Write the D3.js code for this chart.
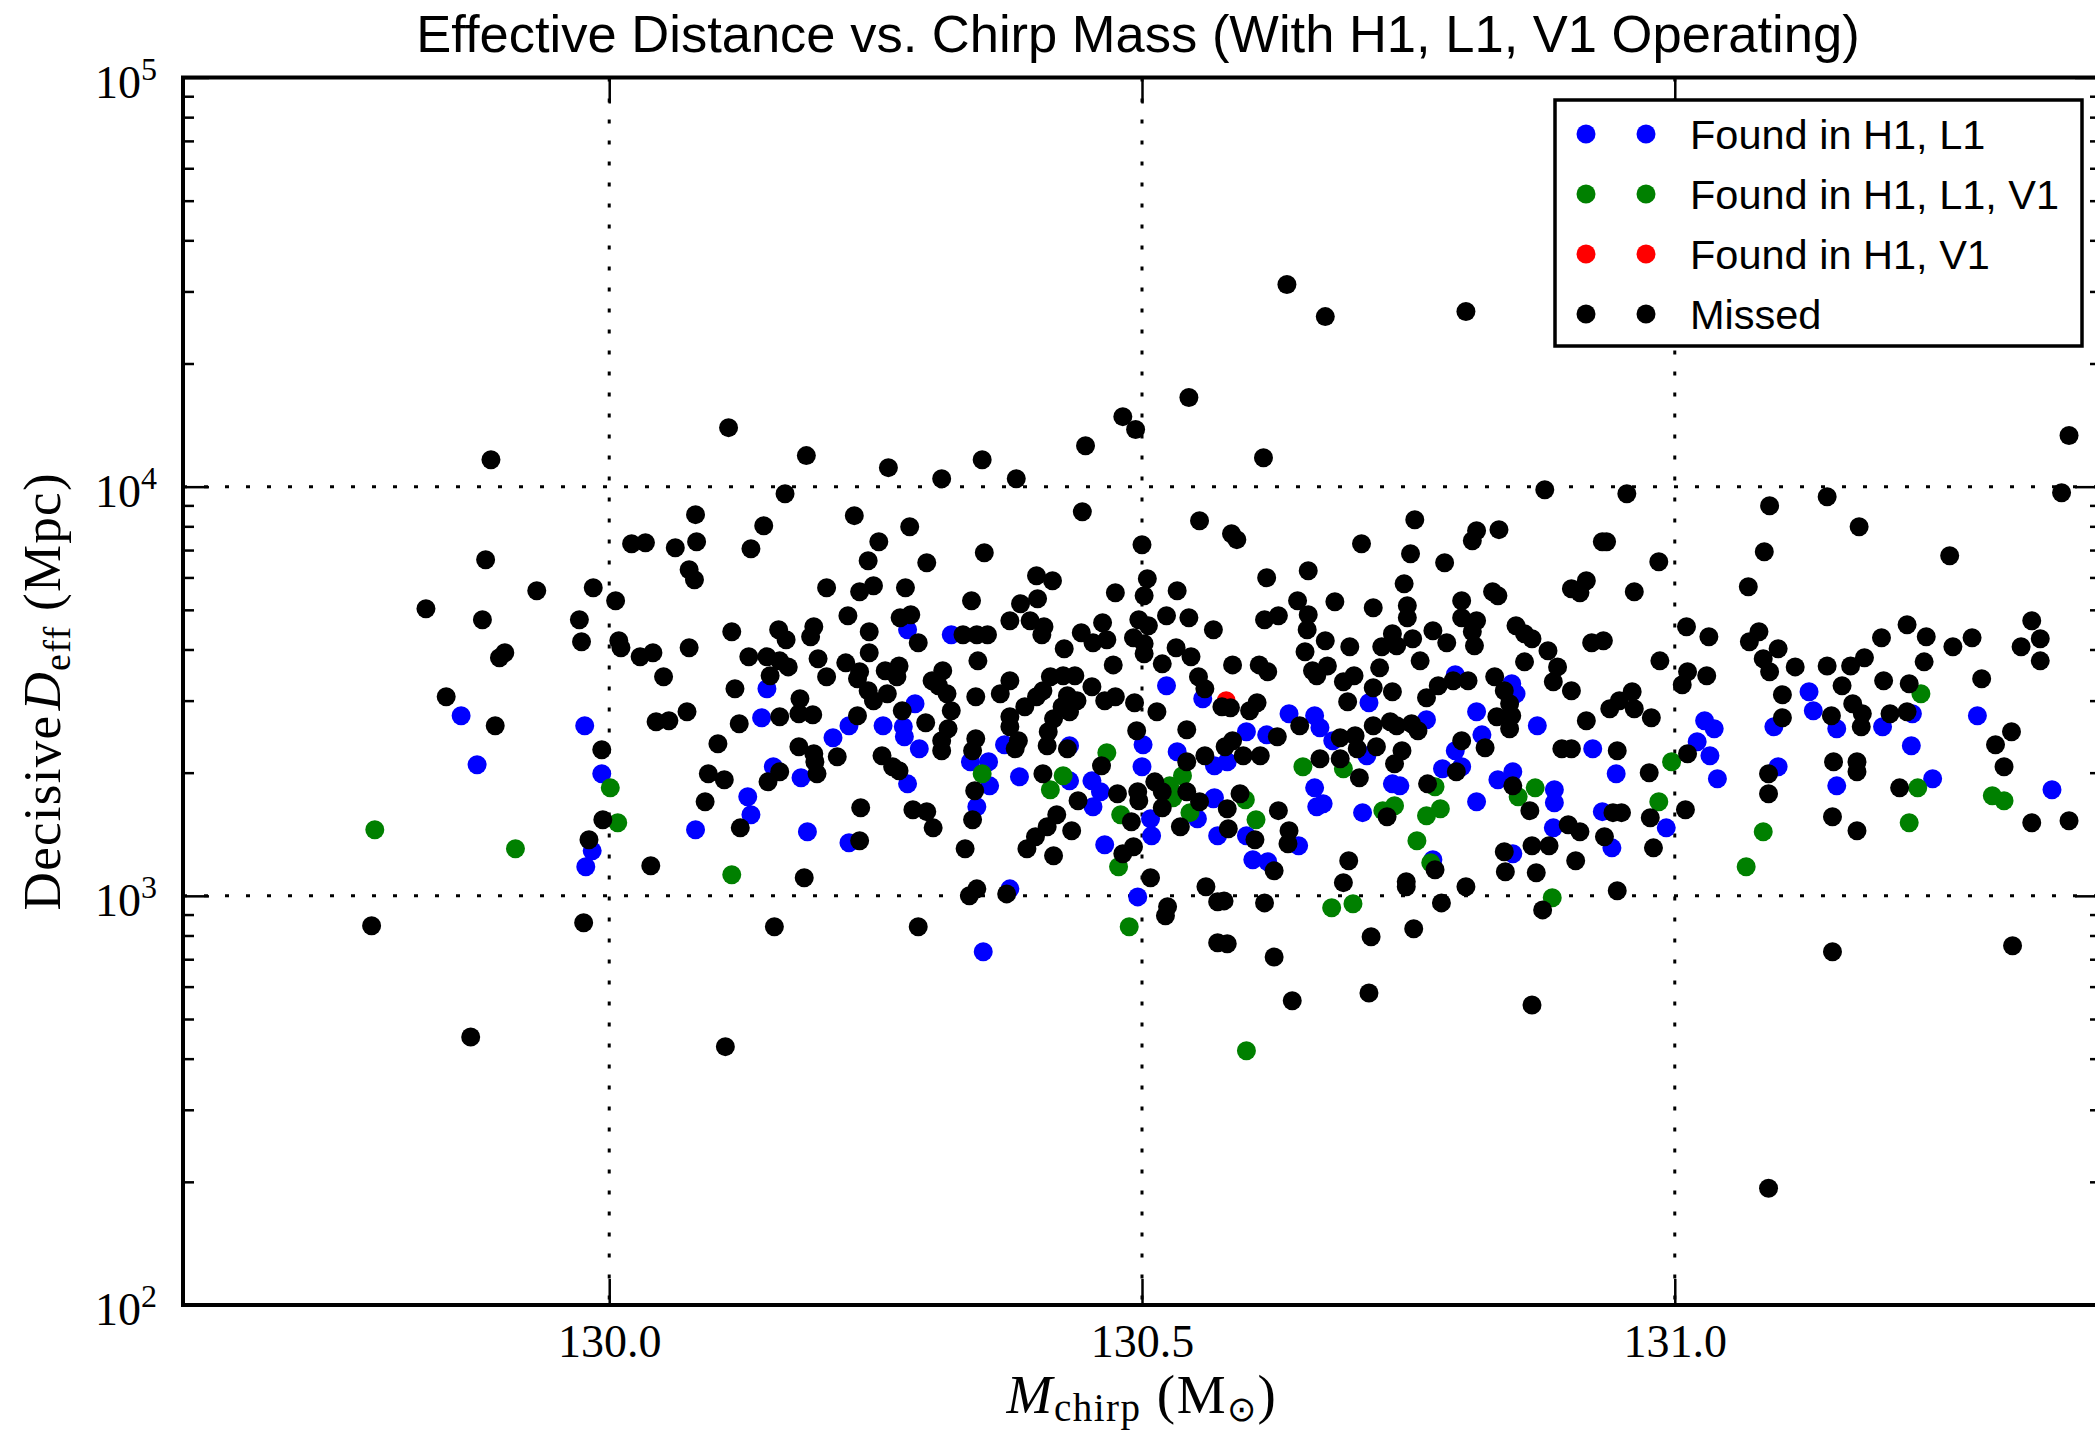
<!DOCTYPE html>
<html>
<head>
<meta charset="utf-8">
<script src="https://cdnjs.cloudflare.com/ajax/libs/d3/7.8.5/d3.min.js"></script>
<style>
body { margin: 0; background: #ffffff; }
svg { display: block; }
</style>
</head>
<body>
<div id="div_id_main"></div>
<script>

// chirp mass (Msun), decisive effective distance (Mpc)
var vFoundH1L1 = [
	[129.861, 2755], [129.977, 2604], [129.876, 2091], [129.993, 1987], [129.984, 1288], [129.978, 1178], [130.081, 1450],
	[130.280, 4469], [130.321, 4345], [130.148, 3207], [130.287, 2948], [130.143, 2724], [130.225, 2604], [130.210, 2434],
	[130.257, 2604], [130.276, 2589], [130.277, 2447], [130.291, 2288], [130.523, 3262], [130.557, 3032], [130.371, 2340],
	[130.432, 2327], [130.501, 2340], [130.533, 2250], [130.154, 2067], [130.180, 1943], [130.130, 1746], [130.133, 1578],
	[130.186, 1434], [130.225, 1348], [130.351, 730], [130.280, 1878], [130.339, 2126], [130.356, 2126], [130.357, 1857],
	[130.345, 1651], [130.376, 1040], [130.385, 1954], [130.432, 1910], [130.453, 1910], [130.461, 1796], [130.454, 1651],
	[130.465, 1333], [130.500, 2067], [130.508, 1543], [130.509, 1402], [130.496, 994], [130.552, 1543], [130.567, 1727],
	[130.571, 1402], [130.713, 2965], [130.794, 3469], [130.847, 3299], [130.851, 3119], [130.638, 2786], [130.662, 2755],
	[130.667, 2575], [130.598, 2518], [130.617, 2474], [130.679, 2393], [130.767, 2694], [130.814, 2819], [130.871, 2604],
	[130.819, 2474], [130.794, 2262], [130.923, 2288], [131.028, 2679], [131.037, 2560], [131.021, 2380], [131.033, 2200],
	[130.568, 2079], [130.580, 2126], [130.711, 2200], [130.662, 1836], [130.670, 1679], [130.664, 1651], [130.568, 1737],
	[130.598, 1402], [130.647, 1325], [130.604, 1225], [130.618, 1211], [130.707, 1597], [130.735, 1878], [130.742, 1857],
	[130.773, 1225], [130.782, 2044], [130.800, 2067], [130.814, 1698], [130.834, 1921], [130.848, 2010], [130.887, 1816],
	[130.887, 1689], [130.886, 1466], [130.848, 1267], [130.945, 1987], [130.932, 1606], [130.941, 1310], [130.992, 1466],
	[131.040, 1932], [131.126, 3154], [131.130, 2835], [131.223, 2786], [131.093, 2589], [131.152, 2560], [131.195, 2589],
	[131.284, 2755], [131.222, 2327], [131.097, 2067], [131.152, 1857], [131.242, 1932], [131.354, 1816]
];

var vFoundH1L1V1 = [
	[130.001, 1836], [130.008, 1509], [129.780, 1450], [129.912, 1303], [130.115, 1126], [130.350, 1987], [130.426, 1965],
	[130.414, 1816], [130.467, 2237], [130.480, 1578], [130.478, 1178], [130.488, 840], [130.526, 1857], [130.538, 1965],
	[130.529, 1737], [130.545, 1597], [130.997, 2126], [130.651, 2067], [130.689, 2044], [130.597, 1717], [130.607, 1535],
	[130.598, 418], [130.678, 935], [130.698, 956], [130.726, 1615], [130.737, 1661], [130.775, 1847], [130.767, 1570],
	[130.780, 1633], [130.758, 1363], [130.771, 1205], [130.853, 1746], [130.869, 1836], [130.885, 989], [130.985, 1698],
	[131.231, 3119], [131.228, 1836], [131.298, 1756], [131.309, 1708], [131.220, 1509], [131.083, 1434], [131.067, 1178]
];

var vFoundH1V1 = [
	[130.579, 2999]
];

var vMissed = [
	[129.889, 11640], [129.884, 6630], [129.828, 5031], [129.881, 4728], [129.932, 5566], [129.985, 5661], [130.006, 5262],
	[129.972, 4728], [129.974, 4178], [130.009, 4201], [130.011, 4039], [129.902, 3926], [129.897, 3817], [130.029, 3838],
	[130.041, 3926], [130.075, 4039], [130.051, 3431], [129.847, 3067], [129.893, 2604], [129.993, 2275], [130.044, 2663],
	[130.056, 2679], [130.073, 2819], [130.021, 7254], [130.034, 7295], [130.062, 7092], [130.081, 8543], [130.082, 7337],
	[130.075, 6267], [130.080, 5922], [129.994, 1535], [129.981, 1371], [130.039, 1185], [129.777, 845], [129.976, 859],
	[129.870, 452],
	[130.112, 13940], [130.185, 11910], [130.262, 11130], [130.312, 10460], [130.350, 11640], [130.382, 10460], [130.447, 12590],
	[130.482, 14830], [130.494, 13790], [130.544, 16510], [130.165, 9614], [130.145, 8028], [130.133, 7052], [130.230, 8495],
	[130.282, 7984], [130.253, 7337], [130.243, 6593], [130.298, 6519], [130.352, 6895], [130.444, 8688], [130.554, 8257],
	[130.500, 7213], [130.204, 5661], [130.235, 5535], [130.248, 5725], [130.278, 5661], [130.401, 6058], [130.416, 5889],
	[130.505, 5956], [130.502, 5412], [130.475, 5504], [130.533, 5566], [130.340, 5262], [130.402, 5321], [130.386, 5174],
	[130.224, 4836], [130.273, 4782], [130.283, 4864], [130.290, 4154], [130.376, 4702], [130.395, 4702], [130.408, 4545],
	[130.406, 4345], [130.115, 4419], [130.159, 4469], [130.166, 4225], [130.192, 4545], [130.189, 4297], [130.244, 4419],
	[130.332, 4345], [130.345, 4345], [130.355, 4345], [130.463, 4649], [130.443, 4395], [130.454, 4154], [130.467, 4225],
	[130.497, 4728], [130.506, 4571], [130.492, 4273], [130.502, 4131], [130.502, 3904], [130.523, 4836], [130.544, 4782],
	[130.567, 4469], [130.532, 4039], [130.546, 3838], [130.519, 3689], [130.473, 3668], [130.427, 4016], [130.346, 3752],
	[130.131, 3838], [130.148, 3838], [130.160, 3752], [130.168, 3627], [130.151, 3450], [130.118, 3207], [130.196, 3795],
	[130.204, 3431], [130.222, 3710], [130.244, 3926], [130.235, 3529], [130.233, 3393], [130.243, 3172], [130.248, 2999],
	[130.261, 3119], [130.259, 3549], [130.272, 3647], [130.270, 3431], [130.313, 3549], [130.303, 3355], [130.309, 3262],
	[130.317, 3119], [130.321, 2835], [130.275, 2835], [130.179, 3032], [130.178, 2786], [130.191, 2771], [130.160, 2740],
	[130.122, 2634], [130.102, 2353], [130.233, 2755], [130.297, 2649], [130.318, 2560], [130.312, 2393], [130.178, 2314],
	[130.192, 2225], [130.214, 2188], [130.256, 2200], [130.344, 3067], [130.367, 3119], [130.376, 3355], [130.390, 2899],
	[130.401, 3067], [130.414, 3431], [130.426, 3450], [130.437, 3450], [130.407, 3172], [130.430, 3084], [130.439, 2999],
	[130.425, 2899], [130.432, 2819], [130.417, 2709], [130.453, 3243], [130.465, 2999], [130.475, 3067], [130.493, 2965],
	[130.514, 2819], [130.553, 3431], [130.559, 3207], [130.495, 2532], [130.542, 2546], [130.376, 2740], [130.376, 2589],
	[130.384, 2393], [130.381, 2288], [130.344, 2420], [130.341, 2262], [130.412, 2518], [130.411, 2327], [130.430, 2288],
	[130.559, 2200],
	[130.193, 2126], [130.195, 1987], [130.093, 1987], [130.108, 1921], [130.090, 1698], [130.160, 2010], [130.149, 1899],
	[130.123, 1466], [130.236, 1642], [130.235, 1363], [130.183, 1107], [130.155, 840], [130.290, 840], [130.109, 428],
	[130.266, 2067], [130.272, 2021], [130.312, 2262], [130.285, 1624], [130.298, 1606], [130.304, 1466], [130.334, 1303],
	[130.343, 1806], [130.341, 1535], [130.338, 1000], [130.345, 1040], [130.373, 1011], [130.407, 1987], [130.440, 1708],
	[130.420, 1578], [130.411, 1475], [130.400, 1394], [130.392, 1303], [130.434, 1442], [130.417, 1253], [130.462, 2079],
	[130.477, 1776], [130.490, 1517], [130.492, 1318], [130.482, 1267], [130.496, 1796], [130.497, 1708], [130.508, 1107],
	[130.512, 1899], [130.519, 1796], [130.519, 1642], [130.542, 2126], [130.542, 1796], [130.554, 1698], [130.536, 1475],
	[130.560, 1052], [130.524, 940], [130.522, 894], [130.571, 967], [130.571, 768],
	[130.614, 11770], [130.878, 9833], [130.955, 9614], [130.584, 7676], [130.589, 7422], [130.706, 7254], [130.756, 8304],
	[130.752, 6857], [130.784, 6519], [130.814, 7807], [130.810, 7379], [130.835, 7852], [130.932, 7337], [130.936, 7337],
	[130.985, 6555], [130.617, 5990], [130.656, 6232], [130.746, 5790], [130.917, 5889], [130.903, 5629], [130.911, 5504],
	[130.962, 5535], [130.829, 5535], [130.834, 5412], [130.646, 5262], [130.656, 4864], [130.655, 4469], [130.653, 3949],
	[130.681, 5232], [130.717, 5060], [130.749, 5117], [130.749, 4782], [130.800, 5262], [130.800, 4782], [130.814, 4702],
	[130.810, 4419], [130.812, 4085], [130.615, 4728], [130.628, 4836], [130.672, 4201], [130.695, 4062], [130.735, 4370],
	[130.725, 4062], [130.739, 4085], [130.754, 4249], [130.773, 4444], [130.786, 4154], [130.761, 3752], [130.851, 4571],
	[130.859, 4370], [130.866, 4249], [130.881, 3971], [130.922, 4154], [130.933, 4201], [130.859, 3731], [130.890, 3627],
	[130.886, 3336], [130.903, 3172], [130.986, 3752], [131.011, 4545], [131.032, 4297], [131.012, 3529], [131.007, 3280],
	[131.030, 3450], [130.585, 3668], [130.610, 3668], [130.618, 3529], [130.660, 3549], [130.674, 3647], [130.664, 3450],
	[130.723, 3607], [130.689, 3336], [130.699, 3450], [130.693, 2982], [130.717, 3225], [130.735, 3154], [130.767, 3049],
	[130.778, 3262], [130.792, 3355], [130.806, 3355], [130.831, 3431], [130.840, 3172], [130.845, 2948], [130.575, 2899],
	[130.583, 2883], [130.608, 2965], [130.601, 2835], [130.648, 2604], [130.627, 2447], [130.585, 2393], [130.578, 2314],
	[130.686, 2434], [130.700, 2461], [130.717, 2604], [130.733, 2663], [130.739, 2604], [130.753, 2634], [130.759, 2532],
	[130.720, 2314], [130.744, 2262], [130.833, 2740], [130.847, 2755], [130.845, 2560], [130.917, 2679], [130.939, 2867],
	[130.948, 2999], [130.960, 3154], [130.962, 2867], [130.978, 2724], [130.800, 2393], [130.822, 2301], [130.894, 2288],
	[130.903, 2288], [130.946, 2262], [131.012, 2225], [130.595, 2200], [130.611, 2200],
	[130.667, 2163], [130.686, 2163], [130.702, 2288], [130.737, 2102], [130.704, 1943], [130.592, 1776], [130.580, 1633],
	[130.581, 1458], [130.628, 1615], [130.606, 1371], [130.638, 1442], [130.637, 1340], [130.624, 1152], [130.577, 972],
	[130.615, 961], [130.580, 764], [130.624, 709], [130.641, 554], [130.694, 1218], [130.689, 1077], [130.715, 794],
	[130.713, 579], [130.730, 1561], [130.768, 1878], [130.748, 1083], [130.748, 1052], [130.755, 831], [130.775, 1158],
	[130.781, 961], [130.804, 1052], [130.795, 2010], [130.848, 1857], [130.864, 1615], [130.900, 1492], [130.911, 1434],
	[130.840, 1281], [130.866, 1325], [130.882, 1325], [130.841, 1145], [130.870, 1139], [130.907, 1218], [130.876, 924],
	[130.866, 541], [130.976, 1998], [130.942, 1597], [130.950, 1597], [130.934, 1394], [130.977, 1552], [130.980, 1310],
	[131.010, 1624], [130.946, 1029],
	[131.089, 8985], [131.143, 9453], [131.173, 7984], [131.258, 6780], [131.370, 13330], [131.363, 9667], [131.084, 6934],
	[131.069, 5693], [131.079, 4419], [131.070, 4178], [131.097, 4016], [131.083, 3795], [131.089, 3529], [131.113, 3627],
	[131.143, 3647], [131.165, 3647], [131.178, 3817], [131.194, 4273], [131.218, 4597], [131.236, 4297], [131.261, 4062],
	[131.279, 4273], [131.234, 3731], [131.335, 4702], [131.343, 4249], [131.325, 4062], [131.343, 3752], [131.288, 3393],
	[131.220, 3299], [131.196, 3355], [131.157, 3262], [131.101, 3101], [131.167, 2948], [131.147, 2755], [131.176, 2786],
	[131.202, 2786], [131.218, 2819], [131.101, 2724], [131.175, 2589], [131.316, 2518], [131.301, 2340], [131.309, 2067],
	[131.149, 2126], [131.171, 2126], [131.171, 2010], [131.088, 1987], [131.088, 1776], [131.211, 1836], [131.148, 1561],
	[131.171, 1442], [131.335, 1509], [131.370, 1526],
	[131.148, 730], [131.317, 755], [131.088, 193], [130.636, 31180], [130.672, 26040], [130.804, 26790]
];

var vLegendLabels = ["Found in H1, L1", "Found in H1, L1, V1", "Found in H1, V1", "Missed"];
var vSeriesColors = ["#0000ff", "#008000", "#ff0000", "#000000"];

var vXTicks = [130.0, 130.5, 131.0];
var vYMajor = [1e2, 1e3, 1e4, 1e5];
var vYExp = [2, 3, 4, 5];

var sTitle = "Effective Distance vs. Chirp Mass (With H1, L1, V1 Operating)";

// ---------------------------------------------------------------

var MAIN_WIDTH = 2095;
var MAIN_HEIGHT = 1436;

var PLOT_LEFT = 183;
var PLOT_RIGHT = 2101;
var PLOT_TOP = 77.5;
var PLOT_BOTTOM = 1305;

var FONT_SANS = "'Liberation Sans', Arial, Helvetica, sans-serif";
var FONT_SERIF = "'Liberation Serif', 'Times New Roman', serif";

var fScale_X = d3.scaleLinear()
					.domain([129.6, 131.4])
					.range([PLOT_LEFT, PLOT_RIGHT]);

var fScale_Y = d3.scaleLog()
					.domain([1e2, 1e5])
					.range([PLOT_BOTTOM, PLOT_TOP]);

function funcDraw_Main() {

	let svgMain = d3.select("#div_id_main")
					.append("svg")
						.attr("width", MAIN_WIDTH)
						.attr("height", MAIN_HEIGHT);

	svgMain.append("rect")
				.attr("width", MAIN_WIDTH)
				.attr("height", MAIN_HEIGHT)
				.attr("fill", "#ffffff");

	svgMain.append("clipPath")
				.attr("id", "clip_id_plot")
			.append("rect")
				.attr("x", PLOT_LEFT)
				.attr("y", PLOT_TOP)
				.attr("width", PLOT_RIGHT - PLOT_LEFT)
				.attr("height", PLOT_BOTTOM - PLOT_TOP);

	funcDraw_Grid(svgMain);

	let vSeries = [vFoundH1L1, vFoundH1L1V1, vFoundH1V1, vMissed];

	for (let nSeries = 0; nSeries < vSeries.length; nSeries++)
		funcDraw_Points(svgMain, vSeries[nSeries], vSeriesColors[nSeries]);

	funcDraw_Axes(svgMain);
	funcDraw_Legend(svgMain);
	funcDraw_Labels(svgMain);
}

function funcDraw_Grid(svgMain) {

	let gGrid = svgMain.append("g")
						.attr("stroke", "#000000")
						.attr("stroke-width", 3)
						.attr("stroke-dasharray", "4,17");

	gGrid.selectAll("line.line_class_grid_x")
			.data(vXTicks)
			.enter()
			.append("line")
				.attr("class", "line_class_grid_x")
				.attr("x1", function (d) { return fScale_X(d); })
				.attr("x2", function (d) { return fScale_X(d); })
				.attr("y1", PLOT_TOP)
				.attr("y2", PLOT_BOTTOM);

	gGrid.selectAll("line.line_class_grid_y")
			.data(vYMajor.slice(1, vYMajor.length - 1))
			.enter()
			.append("line")
				.attr("class", "line_class_grid_y")
				.attr("x1", PLOT_LEFT)
				.attr("x2", PLOT_RIGHT)
				.attr("y1", function (d) { return fScale_Y(d); })
				.attr("y2", function (d) { return fScale_Y(d); });
}

function funcDraw_Points(svgMain, dsPoints, cColor) {

	svgMain.append("g")
				.attr("clip-path", "url(#clip_id_plot)")
			.selectAll("circle")
			.data(dsPoints)
			.enter()
			.append("circle")
				.attr("cx", function (d) { return fScale_X(d[0]); })
				.attr("cy", function (d) { return fScale_Y(d[1]); })
				.attr("r", 9.5)
				.attr("fill", cColor);
}

function funcStyle_Axis(gAxis) {

	gAxis.select(".domain").remove();

	gAxis.selectAll(".tick line")
			.attr("stroke", "#000000")
			.attr("stroke-width", 2.5);
}

function funcDraw_Axes(svgMain) {

	let vYMinor = [];

	for (let nExp = 2; nExp < 5; nExp++) {

		for (let nMul = 2; nMul <= 9; nMul++)
			vYMinor.push(nMul * Math.pow(10, nExp));
	}

	// x axis, bottom and top
	let gBottom = svgMain.append("g")
						.attr("transform", "translate(0," + PLOT_BOTTOM + ")")
						.call(d3.axisBottom(fScale_X)
								.tickValues(vXTicks)
								.tickSizeInner(-26)
								.tickSizeOuter(0)
								.tickPadding(19)
								.tickFormat(d3.format(".1f")));

	funcStyle_Axis(gBottom);

	gBottom.selectAll(".tick text")
			.attr("font-family", FONT_SERIF)
			.attr("font-size", 46)
			.attr("fill", "#000000");

	let gTop = svgMain.append("g")
						.attr("transform", "translate(0," + PLOT_TOP + ")")
						.call(d3.axisTop(fScale_X)
								.tickValues(vXTicks)
								.tickSizeInner(-26)
								.tickSizeOuter(0)
								.tickFormat(""));

	funcStyle_Axis(gTop);

	// y axis, left and right, major and minor
	let vAxes = [
		{"axis":d3.axisLeft, "x":PLOT_LEFT},
		{"axis":d3.axisRight, "x":PLOT_RIGHT}
	];

	for (let i = 0; i < vAxes.length; i++) {

		let gMajor = svgMain.append("g")
							.attr("transform", "translate(" + vAxes[i].x + ",0)")
							.call(vAxes[i].axis(fScale_Y)
									.tickValues(vYMajor)
									.tickSizeInner(-26)
									.tickSizeOuter(0)
									.tickFormat(""));

		funcStyle_Axis(gMajor);

		let gMinor = svgMain.append("g")
							.attr("transform", "translate(" + vAxes[i].x + ",0)")
							.call(vAxes[i].axis(fScale_Y)
									.tickValues(vYMinor)
									.tickSizeInner(-11)
									.tickSizeOuter(0)
									.tickFormat(""));

		funcStyle_Axis(gMinor);
	}

	// y tick labels, 10 with exponent
	for (let i = 0; i < vYMajor.length; i++) {

		let textLabel = svgMain.append("text")
								.attr("x", PLOT_LEFT - 26)
								.attr("y", fScale_Y(vYMajor[i]) + 20)
								.attr("text-anchor", "end")
								.attr("font-family", FONT_SERIF)
								.attr("font-size", 46)
								.attr("fill", "#000000");

		textLabel.append("tspan").text("10");

		textLabel.append("tspan")
					.attr("font-size", 32)
					.attr("dy", -18)
					.text(vYExp[i]);
	}

	// frame
	svgMain.append("rect")
				.attr("x", PLOT_LEFT)
				.attr("y", PLOT_TOP)
				.attr("width", PLOT_RIGHT - PLOT_LEFT)
				.attr("height", PLOT_BOTTOM - PLOT_TOP)
				.attr("fill", "none")
				.attr("stroke", "#000000")
				.attr("stroke-width", 4);
}

function funcDraw_Legend(svgMain) {

	let box_x = 1555;
	let box_y = 100;
	let box_w = 527;
	let box_h = 246;
	let row_y = 134;
	let row_spacing = 60;

	svgMain.append("rect")
				.attr("x", box_x)
				.attr("y", box_y)
				.attr("width", box_w)
				.attr("height", box_h)
				.attr("fill", "#ffffff")
				.attr("stroke", "#000000")
				.attr("stroke-width", 3.5);

	for (let i = 0; i < vLegendLabels.length; i++) {

		let y = row_y + row_spacing * i;

		svgMain.append("circle")
					.attr("cx", box_x + 31)
					.attr("cy", y)
					.attr("r", 9.5)
					.attr("fill", vSeriesColors[i]);

		svgMain.append("circle")
					.attr("cx", box_x + 91)
					.attr("cy", y)
					.attr("r", 9.5)
					.attr("fill", vSeriesColors[i]);

		svgMain.append("text")
					.attr("x", box_x + 135)
					.attr("y", y + 15)
					.attr("font-family", FONT_SANS)
					.attr("font-size", 41.5)
					.attr("fill", "#000000")
					.text(vLegendLabels[i]);
	}
}

function funcDraw_Labels(svgMain) {

	let x_center = (PLOT_LEFT + PLOT_RIGHT) / 2;

	svgMain.append("text")
				.attr("x", x_center - 4)
				.attr("y", 52)
				.attr("text-anchor", "middle")
				.attr("font-family", FONT_SANS)
				.attr("font-size", 52.5)
				.attr("fill", "#000000")
				.text(sTitle);

	// x label: M_chirp (M_sun)
	let textX = svgMain.append("text")
						.attr("x", x_center)
						.attr("y", 1413)
						.attr("text-anchor", "middle")
						.attr("font-family", FONT_SERIF)
						.attr("font-size", 55)
						.attr("letter-spacing", 1.5)
						.attr("fill", "#000000");

	textX.append("tspan").attr("font-style", "italic").text("M");
	textX.append("tspan").attr("font-size", 39).attr("dy", 8).text("chirp");
	textX.append("tspan").attr("dy", -8).text("\u00a0(M");
	textX.append("tspan").attr("font-size", 35).attr("dy", 8).text("\u2299");
	textX.append("tspan").attr("dy", -8).text(")");

	// y label: Decisive D_eff (Mpc)
	let textY = svgMain.append("text")
						.attr("transform", "translate(60," + ((PLOT_TOP + PLOT_BOTTOM) / 2) + ") rotate(-90)")
						.attr("text-anchor", "middle")
						.attr("font-family", FONT_SERIF)
						.attr("font-size", 53)
						.attr("letter-spacing", 1.3)
						.attr("fill", "#000000");

	textY.append("tspan").text("Decisive");
	textY.append("tspan").attr("font-style", "italic").attr("dx", 4).text("D");
	textY.append("tspan").attr("font-size", 38).attr("dy", 10).text("eff");
	textY.append("tspan").attr("dy", -10).text("\u00a0(Mpc)");
}

funcDraw_Main();

</script>
</body>
</html>
